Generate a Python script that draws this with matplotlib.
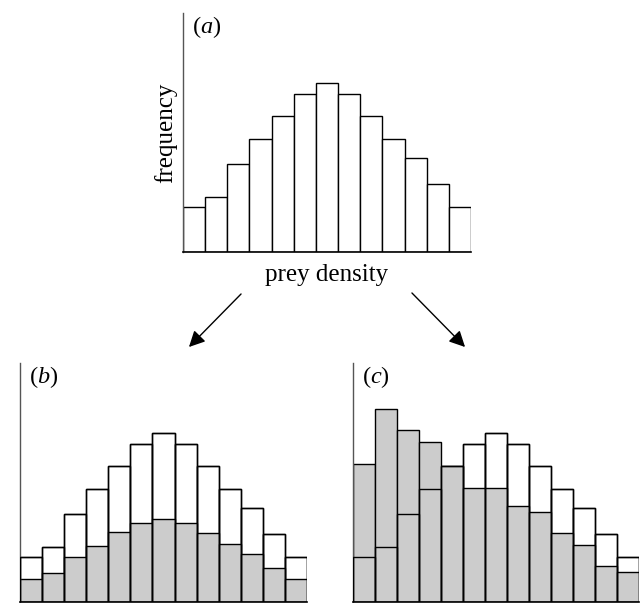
import matplotlib
matplotlib.use("Agg")
import matplotlib.pyplot as plt
from matplotlib.patches import FancyArrowPatch
import numpy as np

plt.rcParams['font.family'] = ['Liberation Serif', 'DejaVu Serif']
plt.rcParams['mathtext.fontset'] = 'custom'
plt.rcParams['mathtext.rm'] = 'Liberation Serif'
plt.rcParams['mathtext.it'] = 'Liberation Serif:italic'

# prey density classes (13 bins) and the original frequency distribution
bins = np.arange(13)
prey_freq = [45, 55, 88, 113, 136, 158, 169, 158, 136, 113, 94, 68, 45]
# (b) uniform reduction of the distribution
freq_b = [23, 29, 45, 56, 70, 79, 83, 79, 69, 58, 48, 34, 23]
# (c) shift towards low prey density
freq_c = [138, 193, 172, 160, 136, 114, 114, 96, 90, 69, 57, 36, 30]

W, H = 640, 603
GREY = '#cccccc'

fig = plt.figure(figsize=(W / 100, H / 100), dpi=100)


def px_axes(left, top, right, bottom):
    # axes from pixel box (origin top-left)
    return fig.add_axes([left / W, 1 - bottom / H, (right - left) / W, (bottom - top) / H])


def style(ax):
    ax.set_xlim(0, 13)
    ax.set_ylim(0, 239)
    ax.set_xticks([])
    ax.set_yticks([])
    ax.spines['top'].set_visible(False)
    ax.spines['right'].set_visible(False)
    ax.spines['left'].set_color('#555555')
    ax.spines['left'].set_linewidth(1.0)
    ax.spines['bottom'].set_linewidth(1.2)
    ax.patch.set_alpha(0)


def draw_panel(ax, new_freq, label):
    ax.bar(bins, prey_freq, width=1, align='edge', color='white',
           edgecolor='black', linewidth=1.0, zorder=1)
    if new_freq is not None:
        ax.bar(bins, new_freq, width=1, align='edge', color=GREY,
               edgecolor='black', linewidth=1.0, zorder=2)
        ax.bar(bins, prey_freq, width=1, align='edge', color='none',
               edgecolor='black', linewidth=1.0, zorder=3)
    style(ax)
    ax.text(0.03, 0.94, label, transform=ax.transAxes, fontsize=17.5,
            ha='left', va='center')


ax_a = px_axes(183, 13, 471, 252)
draw_panel(ax_a, None, r'$(\mathit{a})$')
ax_a.set_ylabel('frequency', fontsize=18, labelpad=4)
ax_a.set_xlabel('prey density', fontsize=18, labelpad=9)

ax_b = px_axes(20, 363, 307, 602)
draw_panel(ax_b, freq_b, r'$(\mathit{b})$')

ax_c = px_axes(353, 363, 639, 602)
draw_panel(ax_c, freq_c, r'$(\mathit{c})$')

# arrows from (a) to (b) and (c)
for (x0, y0), (x1, y1) in [((243, 292), (187, 349)), ((410, 291), (467, 349))]:
    arr = FancyArrowPatch((x0 / W, 1 - y0 / H), (x1 / W, 1 - y1 / H),
                          transform=fig.transFigure, arrowstyle='-|>',
                          mutation_scale=24, linewidth=1.0, color='black')
    fig.add_artist(arr)

fig.savefig('out.png', dpi=100)
